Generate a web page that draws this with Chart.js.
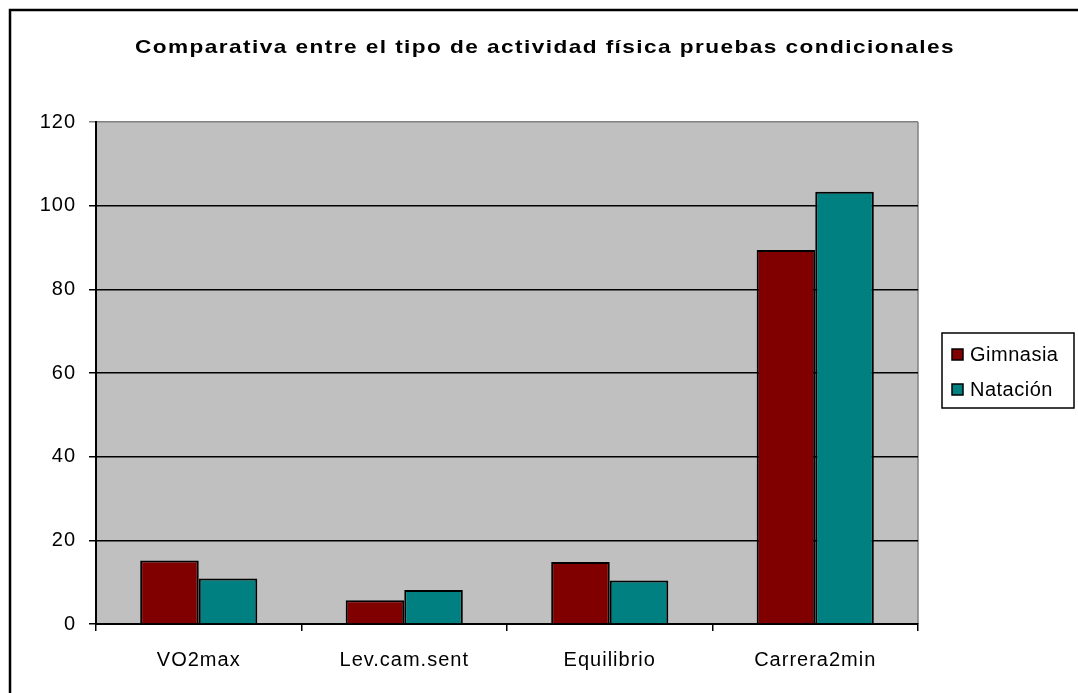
<!DOCTYPE html>
<html>
<head>
<meta charset="utf-8">
<script src="https://cdn.jsdelivr.net/npm/chart.js@4/dist/chart.umd.min.js"></script>
<style>
    body {
        margin: 0;
        background: #ffffff;
    }
</style>
</head>
<body>

<canvas id="barChart" width="1078" height="693"></canvas>

<script>

const titleText =
    "Comparativa entre el tipo de actividad física pruebas condicionales";

const categories = [
    "VO2max",
    "Lev.cam.sent",
    "Equilibrio",
    "Carrera2min"
];

const gimnasiaValues = [15.2, 5.7, 14.8, 89.4];

const natacionValues = [10.9, 8.1, 10.4, 103.3];

const yTicks = [0, 20, 40, 60, 80, 100, 120];

const fontFamily = "'Liberation Sans', Arial, sans-serif";

// plot background, outer frame, and letter spacing for tick text
const backgroundPlugin = {

    id: "excelBackground",

    beforeDraw(chart) {

        const ctx = chart.ctx;
        const area = chart.chartArea;

        ctx.save();

        ctx.fillStyle = "#ffffff";
        ctx.fillRect(0, 0, chart.width, chart.height);

        ctx.strokeStyle = "#000000";
        ctx.lineWidth = 2.5;
        ctx.strokeRect(10, 10, chart.width + 20, chart.height + 20);

        ctx.fillStyle = "#c0c0c0";
        ctx.fillRect(
            area.left,
            area.top,
            area.right - area.left,
            area.bottom - area.top
        );

        ctx.strokeStyle = "#808080";
        ctx.lineWidth = 1.5;
        ctx.beginPath();
        ctx.moveTo(area.right, area.top);
        ctx.lineTo(area.right, area.bottom);
        ctx.stroke();

        ctx.restore();

        ctx.letterSpacing = "1px";
    },

    afterDraw(chart) {

        const ctx = chart.ctx;

        ctx.save();

        // title, stretched to the reference width
        ctx.letterSpacing = "1.2px";
        ctx.font = "bold 19px " + fontFamily;
        ctx.fillStyle = "#000000";
        ctx.textAlign = "center";
        ctx.textBaseline = "middle";

        const w = ctx.measureText(titleText).width;
        const stretch = 820 / w;

        ctx.save();
        ctx.translate(545, 48);
        ctx.scale(stretch, 1);
        ctx.fillText(titleText, 0, 0);
        ctx.restore();

        // legend
        ctx.letterSpacing = "0.5px";
        ctx.lineWidth = 1.5;
        ctx.strokeStyle = "#000000";
        ctx.strokeRect(942, 333, 132, 75);

        ctx.font = "20px " + fontFamily;
        ctx.textAlign = "left";

        chart.data.datasets.forEach((dataset, i) => {

            const y = 355 + i * 35;

            ctx.fillStyle = dataset.backgroundColor;
            ctx.fillRect(952, y - 6, 11, 11);
            ctx.lineWidth = 1.5;
            ctx.strokeRect(952, y - 6, 11, 11);

            ctx.fillStyle = "#000000";
            ctx.fillText(dataset.label, 970, y);
        });

        ctx.restore();
    }
};

new Chart(document.getElementById("barChart"), {

    type: "bar",

    data: {

        labels: categories,

        datasets: [
            {
                label: "Gimnasia",
                data: gimnasiaValues,
                backgroundColor: "#800000",
                borderColor: "#000000",
                borderWidth: 2,
                categoryPercentage: 0.57,
                barPercentage: 1.0
            },
            {
                label: "Natación",
                data: natacionValues,
                backgroundColor: "#008080",
                borderColor: "#000000",
                borderWidth: 2,
                categoryPercentage: 0.57,
                barPercentage: 1.0
            }
        ]
    },

    options: {

        responsive: false,
        animation: false,

        layout: {
            padding: {
                top: 122,
                right: 160,
                left: 0,
                bottom: 0
            }
        },

        plugins: {
            legend: { display: false },
            title: { display: false },
            tooltip: { enabled: false }
        },

        scales: {

            x: {
                afterFit(scale) {
                    scale.height = 69;
                },
                grid: {
                    offset: true,
                    drawOnChartArea: false,
                    drawTicks: true,
                    tickLength: 7,
                    color: "#000000",
                    lineWidth: 1.5
                },
                border: {
                    color: "#000000",
                    width: 2
                },
                ticks: {
                    color: "#000000",
                    padding: 17,
                    maxRotation: 0,
                    font: {
                        family: fontFamily,
                        size: 20
                    }
                }
            },

            y: {
                min: 0,
                max: 120,
                afterFit(scale) {
                    scale.width = 96;
                },
                afterBuildTicks(scale) {
                    scale.ticks = yTicks.map(v => ({ value: v }));
                },
                grid: {
                    drawTicks: true,
                    tickLength: 7,
                    lineWidth: 1.5,
                    color: c =>
                        c.tick && c.tick.value === 120
                            ? "#808080"
                            : "#000000"
                },
                border: {
                    color: "#000000",
                    width: 2
                },
                ticks: {
                    color: "#000000",
                    padding: 13,
                    font: {
                        family: fontFamily,
                        size: 20
                    }
                }
            }
        }
    },

    plugins: [backgroundPlugin]
});

</script>
</body>
</html>
